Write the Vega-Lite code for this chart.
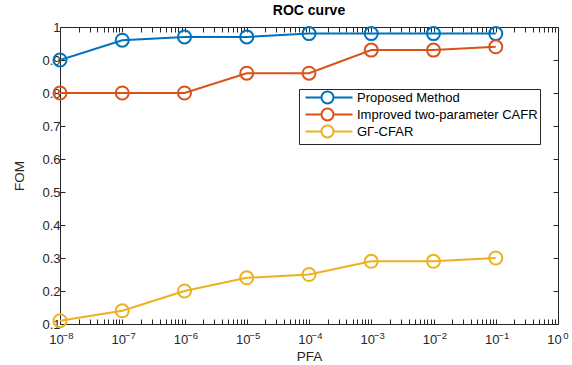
{
  "$schema": "https://vega.github.io/schema/vega-lite/v6.json",
  "width": 498,
  "height": 297,
  "autosize": "none",
  "padding": {"left": 60, "top": 27, "right": 14, "bottom": 41},
  "background": "white",
  "title": {"text": "ROC curve", "fontSize": 14, "fontWeight": "bold", "font": "Liberation Sans", "color": "#000000", "offset": 3, "anchor": "middle"},
  "config": {
    "font": "Liberation Sans",
    "view": {"stroke": "#262626", "strokeWidth": 1},
    "axis": {"grid": false, "domain": false, "labelFont": "Liberation Sans", "labelFontSize": 13, "labelColor": "#262626", "titleFont": "Liberation Sans", "titleFontSize": 13.5, "titleColor": "#262626", "titleFontWeight": "normal", "tickColor": "#262626", "tickWidth": 1},
    "legend": {"labelFont": "Liberation Sans", "labelFontSize": 13, "labelColor": "#000000", "labelLimit": 0}
  },
  "data": {
    "values": [
      {"pfa": 1e-8, "fom": 0.90, "method": "Proposed Method"},
      {"pfa": 1e-7, "fom": 0.96, "method": "Proposed Method"},
      {"pfa": 1e-6, "fom": 0.97, "method": "Proposed Method"},
      {"pfa": 1e-5, "fom": 0.97, "method": "Proposed Method"},
      {"pfa": 1e-4, "fom": 0.98, "method": "Proposed Method"},
      {"pfa": 1e-3, "fom": 0.98, "method": "Proposed Method"},
      {"pfa": 1e-2, "fom": 0.98, "method": "Proposed Method"},
      {"pfa": 1e-1, "fom": 0.98, "method": "Proposed Method"},
      {"pfa": 1e-8, "fom": 0.80, "method": "Improved two-parameter CAFR"},
      {"pfa": 1e-7, "fom": 0.80, "method": "Improved two-parameter CAFR"},
      {"pfa": 1e-6, "fom": 0.80, "method": "Improved two-parameter CAFR"},
      {"pfa": 1e-5, "fom": 0.86, "method": "Improved two-parameter CAFR"},
      {"pfa": 1e-4, "fom": 0.86, "method": "Improved two-parameter CAFR"},
      {"pfa": 1e-3, "fom": 0.93, "method": "Improved two-parameter CAFR"},
      {"pfa": 1e-2, "fom": 0.93, "method": "Improved two-parameter CAFR"},
      {"pfa": 1e-1, "fom": 0.94, "method": "Improved two-parameter CAFR"},
      {"pfa": 1e-8, "fom": 0.11, "method": "GΓ-CFAR"},
      {"pfa": 1e-7, "fom": 0.14, "method": "GΓ-CFAR"},
      {"pfa": 1e-6, "fom": 0.20, "method": "GΓ-CFAR"},
      {"pfa": 1e-5, "fom": 0.24, "method": "GΓ-CFAR"},
      {"pfa": 1e-4, "fom": 0.25, "method": "GΓ-CFAR"},
      {"pfa": 1e-3, "fom": 0.29, "method": "GΓ-CFAR"},
      {"pfa": 1e-2, "fom": 0.29, "method": "GΓ-CFAR"},
      {"pfa": 1e-1, "fom": 0.30, "method": "GΓ-CFAR"}
    ]
  },
  "layer": [
    {
      "mark": {"type": "line", "strokeWidth": 2, "clip": true},
      "encoding": {
        "x": {
          "field": "pfa", "type": "quantitative",
          "scale": {"type": "log", "domain": [1e-8, 1], "nice": false},
          "axis": {
            "orient": "bottom", "title": "PFA", "titlePadding": 3,
            "values": [1e-8,2e-8,3e-8,4e-8,5e-8,6e-8,7e-8,8e-8,9e-8,1e-7,2e-7,3e-7,4e-7,5e-7,6e-7,7e-7,8e-7,9e-7,1e-6,2e-6,3e-6,4e-6,5e-6,6e-6,7e-6,8e-6,9e-6,1e-5,2e-5,3e-5,4e-5,5e-5,6e-5,7e-5,8e-5,9e-5,1e-4,2e-4,3e-4,4e-4,5e-4,6e-4,7e-4,8e-4,9e-4,1e-3,2e-3,3e-3,4e-3,5e-3,6e-3,7e-3,8e-3,9e-3,1e-2,2e-2,3e-2,4e-2,5e-2,6e-2,7e-2,8e-2,9e-2,1e-1,2e-1,3e-1,4e-1,5e-1,6e-1,7e-1,8e-1,9e-1,1],
            "tickSize": -5,
            "labelFontSize": 13,
            "labelPadding": 14,
            "labelOffset": -4,
            "labelOverlap": false,
            "labelBound": false,
            "labelFlush": false,
            "labelExpr": "(abs(log(datum.value)/LN10 - round(log(datum.value)/LN10)) < 1e-6) ? '10' : ''",
            "encode": {"ticks": {"update": {"y2": {"signal": "(abs(log(datum.value)/LN10 - round(log(datum.value)/LN10)) < 1e-6) ? -5 : -2.5"}}}}
          }
        },
        "y": {
          "field": "fom", "type": "quantitative",
          "scale": {"domain": [0.1, 1], "nice": false, "zero": false},
          "axis": {"orient": "left", "title": "FOM", "values": [0.1,0.2,0.3,0.4,0.5,0.6,0.7,0.8,0.9,1], "format": "~g", "tickSize": -5, "labelPadding": 5, "titlePadding": 15, "labelOverlap": false}
        },
        "color": {
          "field": "method", "type": "nominal",
          "scale": {"domain": ["Proposed Method", "Improved two-parameter CAFR", "GΓ-CFAR"], "range": ["#0072BD", "#D95319", "#EDB120"]},
          "legend": {
            "title": null, "orient": "none", "legendX": 239, "legendY": 62,
            "symbolType": "M-0.5,0H3.5M6.5,0H11.25M3.5,0A1.5,1.5 0 1,0 6.5,0A1.5,1.5 0 1,0 3.5,0",
            "symbolSize": 64, "symbolStrokeWidth": 2, "symbolFillColor": "transparent",
            "strokeColor": "#262626", "fillColor": "white", "padding": 2, "rowPadding": -6, "labelOffset": 43, "labelLimit": 0
          }
        }
      }
    },
    {
      "mark": {"type": "point", "shape": "circle", "filled": false, "size": 170, "strokeWidth": 2, "opacity": 1},
      "encoding": {
        "x": {
          "field": "pfa", "type": "quantitative",
          "scale": {"type": "log", "domain": [1e-8, 1], "nice": false},
          "axis": {
            "orient": "top", "title": null, "labels": false,
            "values": [1e-8,2e-8,3e-8,4e-8,5e-8,6e-8,7e-8,8e-8,9e-8,1e-7,2e-7,3e-7,4e-7,5e-7,6e-7,7e-7,8e-7,9e-7,1e-6,2e-6,3e-6,4e-6,5e-6,6e-6,7e-6,8e-6,9e-6,1e-5,2e-5,3e-5,4e-5,5e-5,6e-5,7e-5,8e-5,9e-5,1e-4,2e-4,3e-4,4e-4,5e-4,6e-4,7e-4,8e-4,9e-4,1e-3,2e-3,3e-3,4e-3,5e-3,6e-3,7e-3,8e-3,9e-3,1e-2,2e-2,3e-2,4e-2,5e-2,6e-2,7e-2,8e-2,9e-2,1e-1,2e-1,3e-1,4e-1,5e-1,6e-1,7e-1,8e-1,9e-1,1],
            "tickSize": -5,
            "encode": {"ticks": {"update": {"y2": {"signal": "(abs(log(datum.value)/LN10 - round(log(datum.value)/LN10)) < 1e-6) ? 5 : 2.5"}}}}
          }
        },
        "y": {
          "field": "fom", "type": "quantitative",
          "scale": {"domain": [0.1, 1], "nice": false, "zero": false},
          "axis": {"orient": "right", "title": null, "labels": false, "values": [0.1,0.2,0.3,0.4,0.5,0.6,0.7,0.8,0.9,1], "tickSize": -5}
        },
        "color": {"field": "method", "type": "nominal", "scale": {"domain": ["Proposed Method", "Improved two-parameter CAFR", "GΓ-CFAR"], "range": ["#0072BD", "#D95319", "#EDB120"]}}
      }
    },
    {
      "mark": {"type": "point", "opacity": 0},
      "encoding": {
        "x": {
          "field": "pfa", "type": "quantitative",
          "scale": {"type": "log", "domain": [1e-8, 1], "nice": false},
          "axis": {
            "orient": "bottom", "title": null, "ticks": false,
            "values": [1e-8,1e-7,1e-6,1e-5,1e-4,1e-3,1e-2,1e-1,1],
            "labelFontSize": 9.5,
            "labelPadding": 6,
            "labelOffset": 7.5,
            "labelOverlap": false,
            "labelBound": false,
            "labelFlush": false,
            "labelExpr": "format(round(log(datum.value)/LN10), 'd')"
          }
        },
        "y": {
          "field": "fom", "type": "quantitative",
          "scale": {"domain": [0.1, 1], "nice": false, "zero": false},
          "axis": null
        }
      }
    }
  ],
  "resolve": {"axis": {"x": "independent", "y": "independent"}}
}
